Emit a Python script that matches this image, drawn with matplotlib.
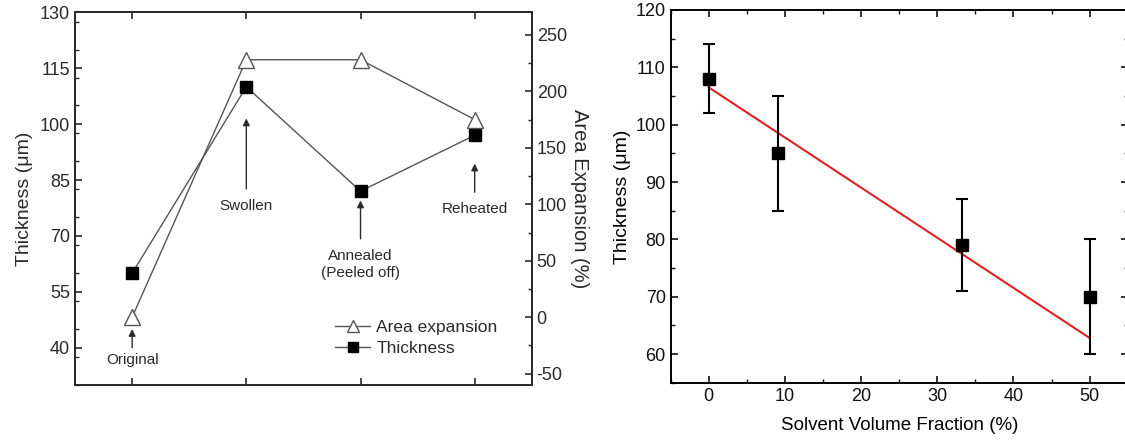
import numpy as np
import matplotlib
matplotlib.use("Agg")
import matplotlib.pyplot as plt
from matplotlib.ticker import MultipleLocator

plt.rcParams['font.family'] = ['Liberation Sans', 'DejaVu Sans']
plt.rcParams['axes.unicode_minus'] = False

# left panel data
stages = [1, 2, 3, 4]
stage_names = ["Original", "Swollen", "Annealed\n(Peeled off)", "Reheated"]
thickness = [60, 110, 82, 97]
area_exp = [0, 228, 228, 175]

# right panel data
solvent = [0, 9.1, 33.3, 50]
thick2 = [108, 95, 79, 70]
thick2_err = [6, 10, 8, 10]
fit_x = [0, 50]
fit_y = [106.5, 62.8]

gray = "#555555"
txt = "#2a2a2a"

fig = plt.figure(figsize=(11.25, 4.42), dpi=100)

# ---------- left
ax = fig.add_axes([0.0667, 0.129, 0.406, 0.8432])
ax2 = ax.twinx()

ax.plot(stages, thickness, color=gray, lw=1.0, marker='s', ms=8,
        mfc='black', mec='black', label='Thickness', zorder=3)
ax2.plot(stages, area_exp, color=gray, lw=1.0, marker='^', ms=11,
         mfc='white', mec=gray, mew=1.0, label='Area expansion', zorder=3)

ax.set_xlim(0.5, 4.5)
ax.set_ylim(30, 130)
ax2.set_ylim(-60, 270)
ax.set_xticks(stages)
ax.set_xticklabels([])
ax.yaxis.set_minor_locator(MultipleLocator(7.5))
ax.set_yticks(np.arange(40, 131, 15))
ax2.yaxis.set_minor_locator(MultipleLocator(25))
ax2.set_yticks(np.arange(-50, 251, 50))

ax.tick_params(axis='both', which='both', direction='in', top=True, colors=txt, labelsize=13)
ax.tick_params(which='major', length=5, width=1.2)
ax.tick_params(which='minor', length=3, width=1.0)
ax2.tick_params(axis='y', which='both', direction='in', colors=txt, labelsize=13)
ax2.tick_params(which='major', length=5, width=1.2)
ax2.tick_params(which='minor', length=3, width=1.0)
for a in (ax, ax2):
    for s in a.spines.values():
        s.set_linewidth(1.4)
        s.set_color(txt)

ax.set_ylabel("Thickness (\u03bcm)", fontsize=14, color=txt, labelpad=5)
ax2.set_ylabel("Area Expansion (%)", fontsize=14.5, color=txt, rotation=270, labelpad=16)

# annotations: (text y, arrow tail y, arrow tip y) in thickness units
ann_text_y = [36.6, 78.1, 62.3, 77.1]
ann_tail_y = [40.0, 82.6, 69.2, 81.7]
ann_tip_y = [45.0, 101.5, 79.5, 89.4]
for xs, name, ty, t0, t1 in zip(stages, stage_names, ann_text_y, ann_tail_y, ann_tip_y):
    ax.text(xs, ty, name, ha='center', va='center', fontsize=11, color=txt,
            linespacing=1.25)
    ax.annotate("", xy=(xs, t1), xytext=(xs, t0),
                arrowprops=dict(arrowstyle='-|>', color=txt, lw=1.0,
                                mutation_scale=10, shrinkA=0, shrinkB=0))

h1, l1 = ax2.get_legend_handles_labels()
h2, l2 = ax.get_legend_handles_labels()
leg = ax.legend(h1 + h2, l1 + l2, loc='lower left', bbox_to_anchor=(0.555, 0.058),
                frameon=False, fontsize=12.5, handlelength=2.0, handletextpad=0.35,
                labelspacing=0.35, borderaxespad=0, markerscale=0.85)
for t in leg.get_texts():
    t.set_color(txt)

# ---------- right
bx = fig.add_axes([0.5962, 0.1342, 0.4062, 0.8432])
bx.errorbar(solvent, thick2, yerr=thick2_err, fmt='s', color='black', ms=8,
            ecolor='black', elinewidth=1.5, capsize=4, capthick=1.5, zorder=3)
bx.plot(fit_x, fit_y, color='#dd2222', lw=1.5, zorder=2)

bx.set_xlim(-5, 55)
bx.set_ylim(55, 120)
bx.xaxis.set_major_locator(MultipleLocator(10))
bx.xaxis.set_minor_locator(MultipleLocator(5))
bx.yaxis.set_major_locator(MultipleLocator(10))
bx.yaxis.set_minor_locator(MultipleLocator(5))
bx.tick_params(axis='both', which='both', direction='in', top=True, right=True,
               colors='#111111', labelsize=13)
bx.tick_params(which='major', length=5, width=1.2)
bx.tick_params(which='minor', length=3, width=1.0)
for s in bx.spines.values():
    s.set_linewidth(1.4)
bx.set_xlabel("Solvent Volume Fraction (%)", fontsize=13.5, labelpad=9)
bx.set_ylabel("Thickness (\u03bcm)", fontsize=14, labelpad=3)

fig.savefig("out.png", dpi=100)
